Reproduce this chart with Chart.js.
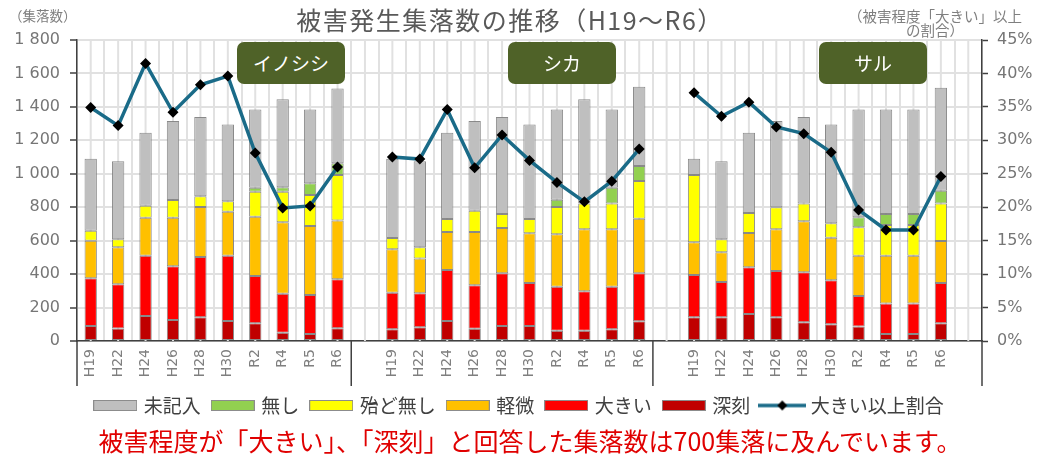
<!DOCTYPE html>
<html><head><meta charset="utf-8">
<script src="https://cdn.jsdelivr.net/npm/chart.js@4.4.1/dist/chart.umd.min.js"></script>
<style>
html,body{margin:0;padding:0;background:#fff;}
#wrap{position:relative;width:1040px;height:459px;overflow:hidden;font-family:'Noto Sans CJK JP','Noto Sans',sans-serif;}
#c{position:absolute;left:0;top:0;}
.t{position:absolute;white-space:nowrap;}
#title{left:0;width:1020px;text-align:center;top:7px;font-size:25px;line-height:25px;letter-spacing:1.5px;color:#595959;}
#unitL{left:9px;top:8px;font-size:13.5px;line-height:14px;color:#7f7f7f;}
#unitR{left:835px;width:200px;text-align:center;top:9px;font-size:14.5px;line-height:14px;color:#7f7f7f;}
.sp{position:absolute;top:42px;height:42px;width:108px;background:#4F6228;border-radius:7px;color:#fff;font-size:19px;line-height:42px;text-align:center;}
#cap{left:60px;width:940px;text-align:center;top:428px;font-size:25px;line-height:25px;color:#E00000;}
</style></head>
<body>
<div id="wrap">
<canvas id="c" width="1040" height="459"></canvas>
<div class="t" id="title">被害発生集落数の推移（H19～R6）</div>
<div class="t" id="unitL">（集落数）</div>
<div class="t" id="unitR">（被害程度「大きい」以上<br>の割合）</div>
<div class="sp" style="left:237px">イノシシ</div>
<div class="sp" style="left:508px">シカ</div>
<div class="sp" style="left:819px">サル</div>
<div class="t" id="cap">被害程度が「大きい」、「深刻」と回答した集落数は700集落に及んでいます。</div>
</div>
<script>
const periods = ['H19','H22','H24','H26','H28','H30','R2','R4','R5','R6'];
const seriesNames = ['深刻','大きい','軽微','殆ど無し','無し','未記入'];
const ratioName = '大きい以上割合';

// イノシシ
const inoShinkoku = [90, 75, 150, 126, 142, 120, 106, 50, 42, 76];
const inoOokii    = [285, 265, 360, 321, 360, 390, 283, 233, 233, 293];
const inoKeibi    = [225, 220, 227, 290, 299, 263, 354, 427, 413, 351];
const inoHotondo  = [60, 48, 72, 106, 64, 62, 150, 183, 185, 273];
const inoNashi    = [0, 0, 0, 0, 0, 0, 24, 26, 70, 70];
const inoMikinyu  = [430, 467, 436, 472, 475, 460, 468, 526, 442, 447];
const inoRatio    = [34.9, 32.2, 41.5, 34.2, 38.3, 39.6, 28.1, 19.9, 20.2, 26.0];
// シカ
const shikaShinkoku = [70, 82, 120, 74, 90, 90, 62, 62, 70, 118];
const shikaOokii    = [219, 203, 305, 259, 315, 257, 263, 235, 255, 287];
const shikaKeibi    = [259, 209, 227, 319, 271, 297, 313, 371, 343, 326];
const shikaHotondo  = [68, 66, 78, 127, 83, 86, 163, 155, 155, 226];
const shikaNashi    = [0, 0, 0, 0, 0, 0, 44, 0, 94, 90];
const shikaMikinyu  = [474, 515, 515, 536, 581, 565, 540, 622, 468, 473];
const shikaRatio    = [27.5, 27.2, 34.6, 25.9, 30.8, 27.0, 23.7, 20.8, 23.9, 28.7];
// サル
const saruShinkoku = [142, 142, 161, 142, 112, 100, 86, 42, 42, 106];
const saruOokii    = [253, 211, 280, 277, 299, 263, 183, 183, 183, 241];
const saruKeibi    = [195, 177, 205, 249, 305, 255, 241, 285, 285, 251];
const saruHotondo  = [403, 78, 119, 132, 107, 86, 170, 184, 184, 225];
const saruNashi    = [0, 0, 0, 0, 0, 0, 60, 65, 65, 76];
const saruMikinyu  = [97, 467, 480, 515, 517, 591, 645, 626, 626, 616];
const saruRatio    = [37.1, 33.6, 35.7, 32.0, 31.0, 28.2, 19.6, 16.6, 16.6, 24.6];

const leftTicks = [0, 200, 400, 600, 800, 1000, 1200, 1400, 1600, 1800];
const rightTicks = [0, 5, 10, 15, 20, 25, 30, 35, 40, 45];

const seriesColors = ['#C00000','#FF0000','#FFC000','#FFFF00','#92D050','#BFBFBF'];
const lineColor = '#1A6B88';

const labels = [...periods, '', ...periods, '', ...periods, ''];
const nz = v => (v === 0 ? null : v);
const join = (a, b, c) => [...a, null, ...b, null, ...c, null].map(v => v === null ? null : nz(v));
const joinR = (a, b, c) => [...a, null, ...b, null, ...c, null];

const barData = [
  join(inoShinkoku, shikaShinkoku, saruShinkoku),
  join(inoOokii, shikaOokii, saruOokii),
  join(inoKeibi, shikaKeibi, saruKeibi),
  join(inoHotondo, shikaHotondo, saruHotondo),
  join(inoNashi, shikaNashi, saruNashi),
  join(inoMikinyu, shikaMikinyu, saruMikinyu)
];
const ratioData = joinR(inoRatio, shikaRatio, saruRatio);

function boxIcon(color) {
  const c = document.createElement('canvas');
  c.width = 44; c.height = 11;
  const g = c.getContext('2d');
  g.fillStyle = color; g.fillRect(0, 0, 44, 11);
  g.strokeStyle = '#8c8c8c'; g.lineWidth = 1; g.strokeRect(0.5, 0.5, 43, 10);
  return c;
}
function lineIcon() {
  const c = document.createElement('canvas');
  c.width = 48; c.height = 12;
  const g = c.getContext('2d');
  g.strokeStyle = lineColor; g.lineWidth = 3.5;
  g.beginPath(); g.moveTo(0, 6); g.lineTo(48, 6); g.stroke();
  g.fillStyle = '#000';
  g.beginPath(); g.moveTo(24, 1); g.lineTo(29, 6); g.lineTo(24, 11); g.lineTo(19, 6); g.closePath(); g.fill();
  return c;
}
const icons = [...seriesColors.map(boxIcon), lineIcon()];
const legendRank = [5, 4, 3, 2, 1, 0, 6];

const datasets = seriesNames.map((name, i) => ({
  type: 'bar', label: name, data: barData[i],
  backgroundColor: seriesColors[i], borderColor: 'rgba(125,125,125,0.9)', borderWidth: 1,
  borderSkipped: false, categoryPercentage: 0.45, barPercentage: 1,
  yAxisID: 'y', stack: 's', order: 1
}));
datasets.push({
  type: 'line', label: ratioName, data: ratioData, yAxisID: 'y1', order: 0,
  borderColor: lineColor, borderWidth: 3.5, tension: 0, spanGaps: false,
  pointStyle: 'rectRot', pointRadius: 5.5, pointBackgroundColor: '#000', pointBorderColor: '#000', pointBorderWidth: 0
});

const gridPlugin = {
  id: 'centerGrid',
  beforeDatasetsDraw(chart) {
    const xs = chart.scales.x, a = chart.chartArea, ctx = chart.ctx;
    ctx.save();
    ctx.strokeStyle = '#e1e1e1'; ctx.lineWidth = 2;
    for (let i = 0; i < labels.length; i++) {
      const x = xs.getPixelForValue(i);
      ctx.beginPath(); ctx.moveTo(x, a.top); ctx.lineTo(x, a.bottom); ctx.stroke();
    }
    ctx.restore();
  },
  afterDraw(chart) {
    const xs = chart.scales.x, a = chart.chartArea, ctx = chart.ctx;
    const b = i => (xs.getPixelForValue(i) + xs.getPixelForValue(i + 1)) / 2;
    const xsList = [a.left, b(9), b(20), a.right];
    ctx.save();
    ctx.strokeStyle = '#404040'; ctx.lineWidth = 1.5;
    xsList.forEach(x => { ctx.beginPath(); ctx.moveTo(x, a.bottom); ctx.lineTo(x, a.bottom + 45); ctx.stroke(); });
    ctx.restore();
  }
};

const fmtLeft = v => v >= 1000 ? Math.floor(v / 1000) + ' ' + String(v % 1000).padStart(3, '0') : String(v);

new Chart(document.getElementById('c'), {
  type: 'bar',
  data: { labels, datasets },
  plugins: [gridPlugin],
  options: {
    responsive: false, animation: false,
    layout: { padding: { top: 40, left: 0, right: 0, bottom: 34 } },
    plugins: {
      title: { display: false },
      tooltip: { enabled: false },
      legend: {
        position: 'bottom',
        labels: {
          usePointStyle: true, pointStyleWidth: 38, boxHeight: 12, padding: 13,
          color: '#404040', font: { family: "'Noto Sans CJK JP'", size: 19 },
          generateLabels(chart) {
            const items = Chart.defaults.plugins.legend.labels.generateLabels(chart);
            items.forEach(it => { it.pointStyle = icons[it.datasetIndex]; });
            return items;
          },
          sort: (a, b) => legendRank[a.datasetIndex] - legendRank[b.datasetIndex]
        }
      }
    },
    scales: {
      x: {
        stacked: true, offset: true,
        grid: { color: '#e1e1e1', lineWidth: 2, drawTicks: false, offset: true },
        border: { color: '#404040', width: 1.5 },
        ticks: { autoSkip: false, maxRotation: 90, minRotation: 90, padding: 8, color: '#7f7f7f', font: { family: "'DejaVu Sans'", size: 14 } },
        afterFit(s) { s.height = 42; }
      },
      y: {
        stacked: true, min: 0, max: 1800, position: 'left',
        afterBuildTicks(s) { s.ticks = leftTicks.map(v => ({ value: v })); },
        grid: { color: '#e1e1e1', lineWidth: 2, tickColor: '#404040', tickLength: 7, tickWidth: 1.5 },
        border: { color: '#404040', width: 1.5 },
        ticks: { padding: 10, color: '#767676', font: { family: "'DejaVu Sans'", size: 16 }, callback: v => fmtLeft(v) },
        afterFit(s) { s.width = 77; }
      },
      y1: {
        min: 0, max: 45, position: 'right',
        afterBuildTicks(s) { s.ticks = rightTicks.map(v => ({ value: v })); },
        grid: { drawOnChartArea: false, tickColor: '#404040', tickLength: 6, tickWidth: 1.5 },
        border: { color: '#404040', width: 1.5 },
        ticks: { padding: 9, color: '#767676', font: { family: "'DejaVu Sans'", size: 16 }, callback: v => v + '%' },
        afterFit(s) { s.width = 58; }
      }
    }
  }
});
</script>
</body></html>
